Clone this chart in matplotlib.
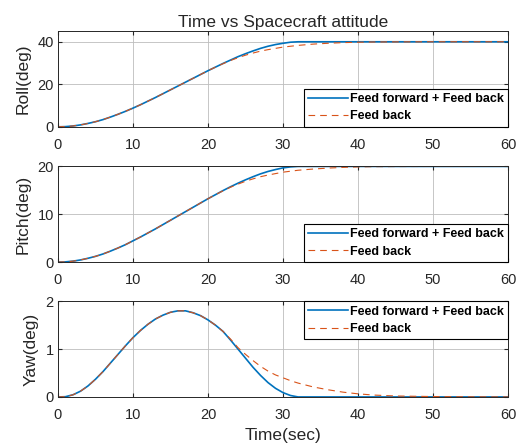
import matplotlib
matplotlib.use("Agg")
import matplotlib.pyplot as plt

plt.rcParams['font.family'] = ['Liberation Sans', 'DejaVu Sans']

# time axis (sec)
t_ff = [0, 1, 2, 3, 4, 5, 6, 7, 8, 9, 10, 11, 12, 13, 14, 15, 16, 17, 18, 19, 20,
        21, 22, 23, 24, 25, 26, 27, 28, 29, 30, 31, 32, 40, 50, 60]
t_fb = [0, 1, 2, 3, 4, 5, 6, 7, 8, 9, 10, 11, 12, 13, 14, 15, 16, 17, 18, 19, 20,
        21, 22, 23, 24, 25, 26, 27, 28, 29, 30, 31, 32, 34, 35, 36, 38, 40, 42, 45, 50, 55, 60]

# Roll (deg)
roll_ff = [0, 0.1, 0.4, 0.9, 1.6, 2.4, 3.4, 4.6, 5.9, 7.3, 8.8, 10.4, 12.1, 13.8, 15.6, 17.4,
           19.2, 21.0, 22.8, 24.6, 26.4, 28.1, 29.8, 31.4, 33.0, 34.4, 35.7, 36.9, 37.9, 38.7,
           39.3, 39.8, 40.0, 40.0, 40.0, 40.0]
roll_fb = [0, 0.1, 0.4, 0.9, 1.6, 2.4, 3.4, 4.6, 5.9, 7.3, 8.8, 10.4, 12.1, 13.8, 15.6, 17.4,
           19.2, 21.0, 22.8, 24.6, 26.4, 28.1, 29.7, 31.2, 32.5, 33.7, 34.7, 35.6, 36.3, 36.9,
           37.5, 37.9, 38.3, 38.9, 39.1, 39.3, 39.6, 39.8, 39.9, 39.95, 40.0, 40.0, 40.0]

# Pitch (deg)
pitch_ff = [0, 0.05, 0.2, 0.45, 0.8, 1.2, 1.7, 2.3, 2.95, 3.65, 4.45, 5.25, 6.1, 6.95, 7.85,
            8.75, 9.65, 10.55, 11.45, 12.35, 13.25, 14.1, 14.95, 15.75, 16.5, 17.2, 17.85,
            18.45, 18.95, 19.35, 19.7, 19.9, 20.0, 20.0, 20.0, 20.0]
pitch_fb = [0, 0.05, 0.2, 0.45, 0.8, 1.2, 1.7, 2.3, 2.95, 3.65, 4.45, 5.25, 6.1, 6.95, 7.85,
            8.75, 9.65, 10.55, 11.45, 12.35, 13.25, 14.1, 14.9, 15.65, 16.3, 16.9, 17.4,
            17.85, 18.2, 18.5, 18.8, 19.0, 19.2, 19.45, 19.55, 19.65, 19.8, 19.9, 19.95,
            19.98, 20.0, 20.0, 20.0]

# Yaw (deg)
yaw_ff = [0, 0.005, 0.045, 0.12, 0.23, 0.37, 0.53, 0.71, 0.89, 1.07, 1.24, 1.39, 1.52, 1.63,
          1.71, 1.77, 1.80, 1.80, 1.76, 1.70, 1.61, 1.50, 1.37, 1.19, 1.00, 0.81, 0.62, 0.45,
          0.30, 0.18, 0.09, 0.03, 0.0, 0.0, 0.0, 0.0]
yaw_fb = [0, 0.005, 0.045, 0.12, 0.23, 0.37, 0.53, 0.71, 0.89, 1.07, 1.24, 1.39, 1.52, 1.63,
          1.71, 1.77, 1.80, 1.80, 1.76, 1.70, 1.61, 1.50, 1.37, 1.21, 1.03, 0.89, 0.76, 0.64,
          0.54, 0.46, 0.40, 0.34, 0.29, 0.21, 0.18, 0.15, 0.10, 0.065, 0.04, 0.02, 0.008, 0.002, 0.0]

panels = [
    ("Roll(deg)", roll_ff, roll_fb, (0, 45), [0, 20, 40], "lower right"),
    ("Pitch(deg)", pitch_ff, pitch_fb, (0, 20), [0, 10, 20], "lower right"),
    ("Yaw(deg)", yaw_ff, yaw_fb, (0, 2), [0, 1, 2], "upper right"),
]

fig = plt.figure(figsize=(5.32, 4.45), dpi=100)
left, width = 0.109, 0.846
bottoms = [0.715, 0.411, 0.108]
height = 0.215
dark = '#262626'

for i, (lab, ff, fb, ylim, yticks, loc) in enumerate(panels):
    ax = fig.add_axes([left, bottoms[i], width, height])
    ax.plot(t_ff, ff, color='#0072BD', lw=1.2, label='Feed forward + Feed back')
    ax.plot(t_fb, fb, color='#D95319', lw=0.8, ls=(0, (6, 4.5)), label='Feed back')
    ax.set_xlim(0, 60)
    ax.set_ylim(*ylim)
    ax.set_xticks([0, 10, 20, 30, 40, 50, 60])
    ax.set_yticks(yticks)
    ax.grid(True, color='#bdbdbd', lw=0.6)
    ax.tick_params(direction='in', length=3, labelsize=10.5, top=True, right=True,
                   color=dark, labelcolor=dark)
    ax.tick_params(axis='x', pad=8)
    ax.tick_params(axis='y', pad=3)
    for s in ax.spines.values():
        s.set_color(dark)
        s.set_linewidth(0.7)
    ax.set_ylabel(lab, fontsize=12.5, color=dark, labelpad=5)
    leg = ax.legend(loc=loc, prop={'weight': 'bold', 'size': 9}, frameon=True, fancybox=False,
                    borderaxespad=0, handlelength=3.2, handletextpad=0.15, borderpad=0.35,
                    labelspacing=0.42, framealpha=1)
    leg.get_frame().set_edgecolor('black')
    leg.get_frame().set_linewidth(0.8)
    if i == 0:
        ax.set_title('Time vs Spacecraft attitude', fontsize=12.5, color=dark, pad=3)
    if i == 2:
        ax.set_xlabel('Time(sec)', fontsize=12.5, color=dark, labelpad=4)

fig.savefig('out.png', dpi=100)
